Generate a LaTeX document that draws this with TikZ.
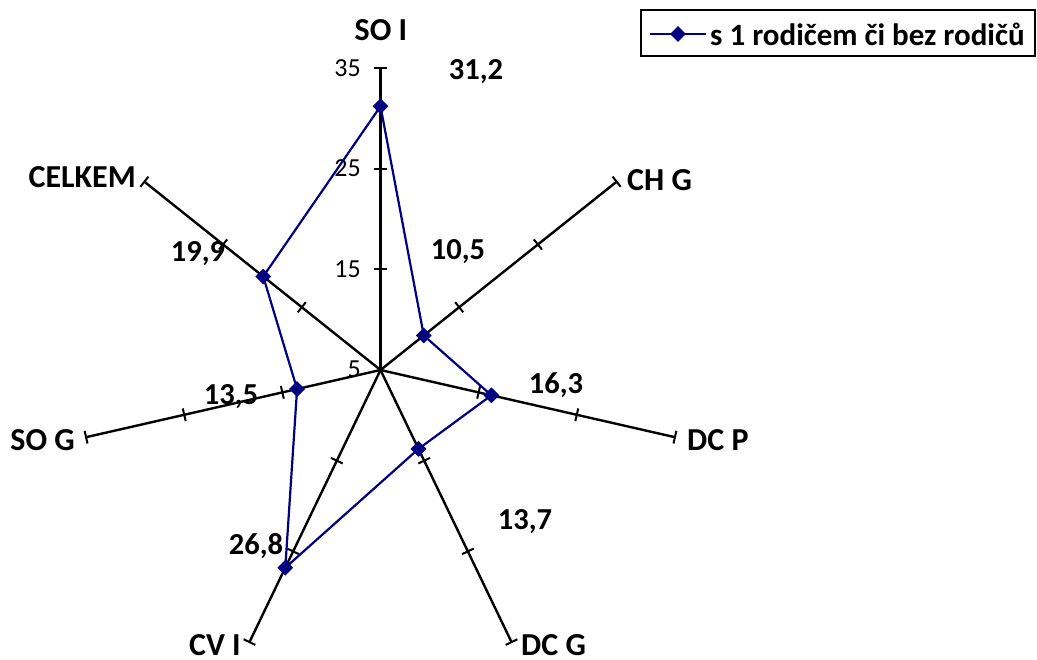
\documentclass[tikz,border=0pt]{standalone}
\usepackage{fontspec}
\setmainfont{Carlito}
\usetikzlibrary{shapes.geometric,calc}
\definecolor{serie}{RGB}{0,0,128}
\begin{document}
\begin{tikzpicture}[x=1pt,y=1pt,
  axisline/.style={line width=2.4, black},
  tickline/.style={line width=2, black},
  serieline/.style={line width=2.2, serie},
  marker/.style={diamond, fill=serie, inner sep=0pt, minimum size=16pt},
  catlabel/.style={font=\fontsize{32}{34}\selectfont\bfseries, inner sep=0pt},
  vallabel/.style={font=\fontsize{30.5}{32}\selectfont\bfseries, inner sep=0pt},
  ticklabel/.style={font=\fontsize{26}{28}\selectfont, inner sep=0pt, anchor=east},
  legendtext/.style={font=\fontsize{31}{33}\selectfont\bfseries, inner sep=0pt, anchor=west}]
\useasboundingbox (0,0) rectangle (1037,-660);
\coordinate (O) at (380.5,-370);
% axes with ticks
\foreach \i/\a in {0/90,1/38.571,2/-12.857,3/-64.286,4/-115.714,5/-167.143,6/141.429}{
  \begin{scope}[shift={(O)}, rotate=\a]
    \coordinate (e\i) at (302,0);
    \draw[axisline] (0,0) -- (e\i);
    \foreach \r in {100.67,201.33,302}
      \draw[tickline] (\r,-6.5) -- (\r,6.5);
  \end{scope}
}
% tick labels
\node[ticklabel] (t35) at (361,-68) {35};
\node[ticklabel] (t25) at (361,-168.5) {25};
\node[ticklabel] (t15) at (361,-269) {15};
\node[ticklabel] (t5) at (361,-369.5) {5};
% data points
\foreach \i/\a/\v in {0/90/31.2,1/38.571/10.5,2/-12.857/16.3,3/-64.286/13.7,4/-115.714/26.8,5/-167.143/13.5,6/141.429/19.9}{
  \pgfmathsetmacro{\rr}{(\v-5)*302/30}
  \coordinate (c\i) at ($(O)+(\a:\rr)$);
}
\draw[serieline, line join=round] (c0) -- (c1) -- (c2) -- (c3) -- (c4) -- (c5) -- (c6) -- cycle;
\foreach \i in {0,...,6}
  \node[marker] (p\i) at (c\i) {};
% category labels
\node[catlabel] (lSOI) at (381,-30) {SO I};
\node[catlabel, anchor=west] (lCHG) at (627,-180) {CH G};
\node[catlabel, anchor=west] (lDCP) at (687,-440) {DC P};
\node[catlabel, anchor=west] (lDCG) at (521,-645) {DC G};
\node[catlabel, anchor=east] (lCVI) at (241,-645) {CV I};
\node[catlabel, anchor=east] (lSOG) at (75,-440) {SO G};
\node[catlabel, anchor=east] (lCEL) at (136,-177) {CELKEM};
% value labels
\node[vallabel] (v0) at (476,-72) {31,2};
\node[vallabel] (v1) at (458,-252) {10,5};
\node[vallabel] (v2) at (556,-385) {16,3};
\node[vallabel] (v3) at (525,-522) {13,7};
\node[vallabel] (v4) at (256,-546) {26,8};
\node[vallabel] (v5) at (231,-397) {13,5};
\node[vallabel] (v6) at (198,-254) {19,9};
% legend
\draw[line width=2.2] (641,-10) rectangle (1035,-56);
\coordinate (la) at (650,-34);
\coordinate (lb) at (706,-34);
\draw[serieline] (la) -- (lb);
\node[marker] (lm) at ($(la)!0.5!(lb)$) {};
\node[legendtext] (lt) at (710,-34) {s 1 rodičem či bez rodičů};
\end{tikzpicture}
\end{document}
